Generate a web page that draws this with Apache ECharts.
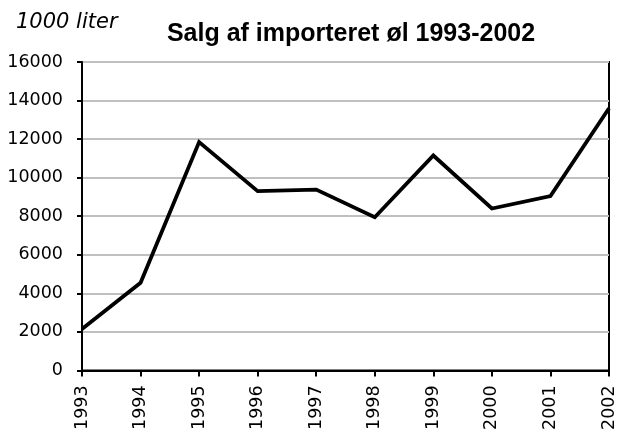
<!DOCTYPE html>
<html>
<head>
<meta charset="utf-8">
<script src="https://cdn.jsdelivr.net/npm/echarts@6/dist/echarts.min.js"></script>
<style>
  html, body { margin: 0; padding: 0; background: #fff; }
  #chart { width: 618px; height: 433px; }
</style>
</head>
<body>
<div id="chart"></div>
<script>
// data
var years = ['1993', '1994', '1995', '1996', '1997', '1998', '1999', '2000', '2001', '2002'];
var salg = [2150, 4550, 11850, 9300, 9380, 7950, 11150, 8400, 9050, 13600];
var yTicks = [0, 2000, 4000, 6000, 8000, 10000, 12000, 14000, 16000];

var myChart = echarts.init(document.getElementById('chart'));
myChart.setOption({
    animation: false,
    backgroundColor: '#fff',
    title: [{
        text: 'Salg af importeret øl 1993-2002',
        left: 346,
        top: 17,
        textAlign: 'center',
        textStyle: { fontFamily: 'Liberation Sans', fontWeight: 'bold', fontSize: 25, color: '#000' }
    }, {
        text: '1000 liter',
        left: 11,
        top: 7,
        textStyle: { fontFamily: 'DejaVu Sans', fontStyle: 'italic', fontWeight: 'normal', fontSize: 21, color: '#000' }
    }],
    grid: {
        left: 82, right: 9, top: 62, bottom: 62,
        show: true, borderColor: '#000', borderWidth: 2
    },
    xAxis: {
        type: 'category',
        data: years,
        boundaryGap: false,
        axisLine: { lineStyle: { color: '#000', width: 2 } },
        axisTick: { length: 6, lineStyle: { color: '#000', width: 2 } },
        axisLabel: {
            rotate: 90, margin: 15, color: '#000',
            fontFamily: 'DejaVu Sans', fontSize: 17.5
        }
    },
    yAxis: {
        type: 'value',
        min: 0, max: 16000, interval: 2000,
        axisLine: { show: true, lineStyle: { color: '#000', width: 2 } },
        axisTick: { show: true, length: 5, lineStyle: { color: '#000', width: 2 } },
        splitLine: { lineStyle: { color: '#c0c0c0', width: 2 } },
        axisLabel: {
            margin: 19, color: '#000', fontFamily: 'DejaVu Sans', fontSize: 17.5,
            formatter: function (v) { return yTicks.indexOf(v) >= 0 ? String(v) : ''; }
        }
    },
    series: [{
        type: 'line',
        data: salg,
        symbol: 'none',
        lineStyle: { color: '#000', width: 3.8, join: 'miter' }
    }]
});
</script>
</body>
</html>
